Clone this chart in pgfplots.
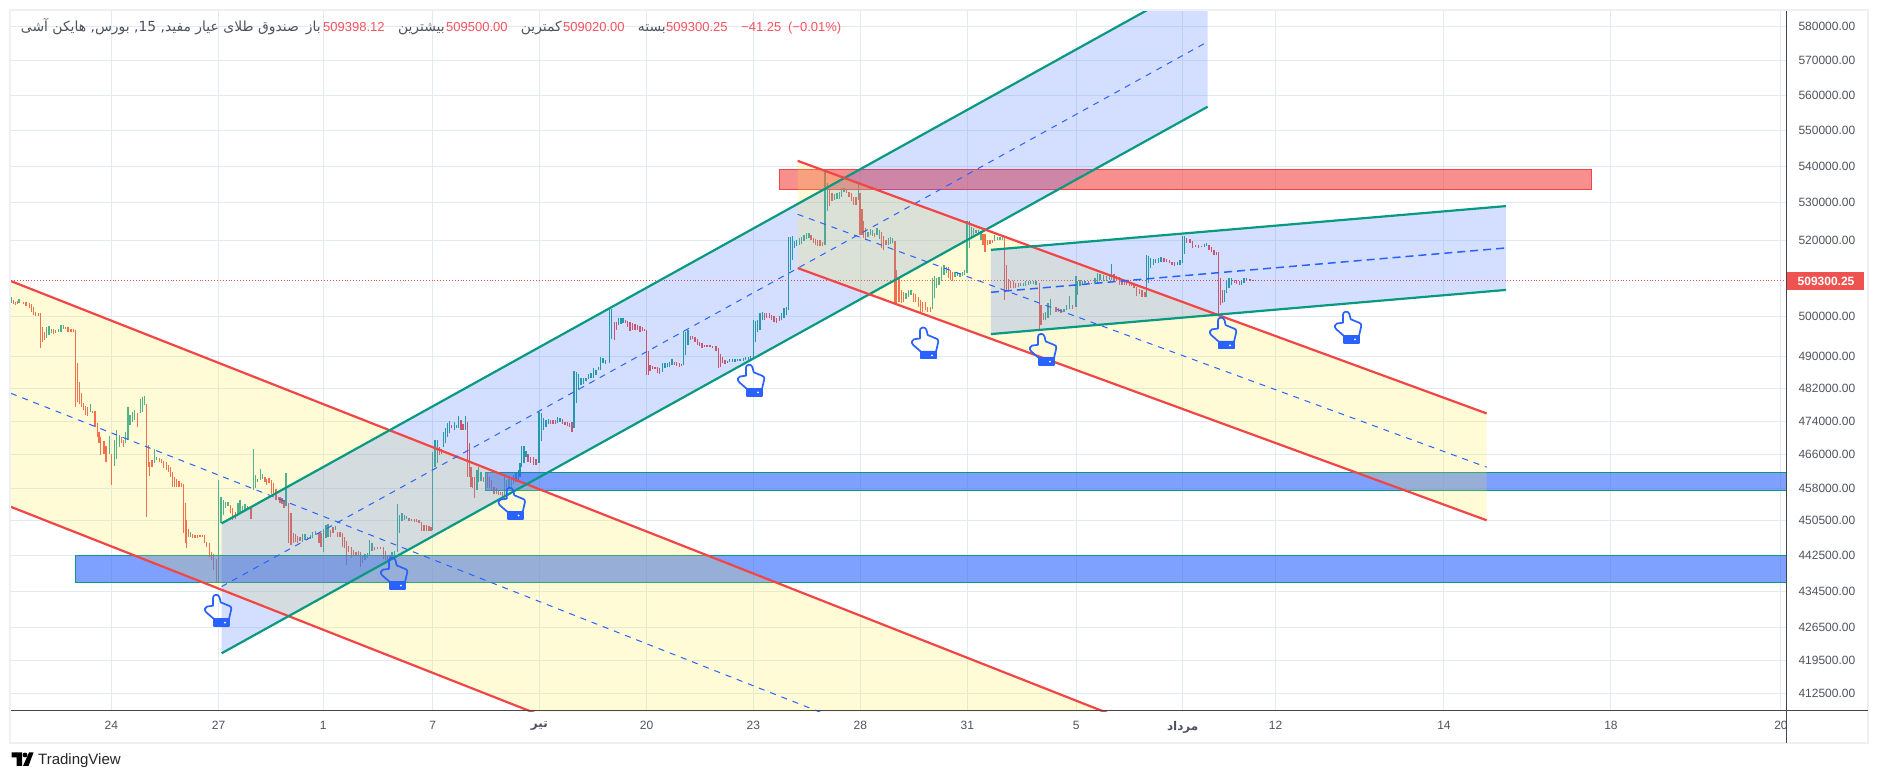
\documentclass[border=0pt]{standalone}
\usepackage{fontspec}
\usepackage{pgfplots}
\usepackage{pgfplotstable}
\pgfplotsset{compat=1.18}
\setmainfont{Liberation Sans}
\newfontfamily\arabicfont[Script=Arabic]{DejaVu Sans}
\TeXXeTstate=1
\definecolor{cr}{HTML}{EF5350}
\definecolor{cg}{HTML}{26A69A}
\definecolor{lr}{HTML}{F24545}
\definecolor{lt}{HTML}{089981}
\definecolor{hb}{HTML}{2962FF}
\definecolor{yl}{HTML}{FFEB3B}
\definecolor{gridc}{HTML}{E1ECF2}
\definecolor{framec}{HTML}{EEF0F6}
\definecolor{axc}{HTML}{434651}
\definecolor{txt}{HTML}{50535E}
\definecolor{redt}{HTML}{F7525F}
\pgfdeclareplotmark{hand}{%
  \pgfsetroundjoin\pgfsetroundcap
  \pgfpathmoveto{\pgfqpoint{-2.3pt}{15.3pt}}
  \pgfpathcurveto{\pgfqpoint{-4.5pt}{15pt}}{\pgfqpoint{-5pt}{13.5pt}}{\pgfqpoint{-5pt}{12pt}}
  \pgfpathlineto{\pgfqpoint{-5pt}{4.3pt}}
  \pgfpathlineto{\pgfqpoint{-11pt}{3.5pt}}
  \pgfpathcurveto{\pgfqpoint{-13.5pt}{3pt}}{\pgfqpoint{-14pt}{0pt}}{\pgfqpoint{-11.7pt}{-2.3pt}}
  \pgfpathlineto{\pgfqpoint{-4pt}{-9pt}}
  \pgfpathlineto{\pgfqpoint{11pt}{-9pt}}
  \pgfpathlineto{\pgfqpoint{13.3pt}{1pt}}
  \pgfpathcurveto{\pgfqpoint{13.5pt}{3pt}}{\pgfqpoint{12.5pt}{4pt}}{\pgfqpoint{11pt}{4.3pt}}
  \pgfpathlineto{\pgfqpoint{2.7pt}{7.7pt}}
  \pgfpathlineto{\pgfqpoint{1.5pt}{12.7pt}}
  \pgfpathcurveto{\pgfqpoint{1pt}{14.5pt}}{\pgfqpoint{-0.5pt}{15.5pt}}{\pgfqpoint{-2.3pt}{15.3pt}}
  \pgfusepathqstroke
  \pgfsetfillcolor{hb}
  \pgfpathmoveto{\pgfqpoint{-4pt}{-9pt}}
  \pgfpathlineto{\pgfqpoint{11pt}{-9pt}}
  \pgfpathlineto{\pgfqpoint{11pt}{-15.7pt}}
  \pgfpathlineto{\pgfqpoint{-4pt}{-15.7pt}}
  \pgfpathclose
  \pgfusepathqfillstroke
  \pgfsetfillcolor{white}
  \pgfpathcircle{\pgfqpoint{7pt}{-12.5pt}}{1pt}
  \pgfusepathqfill
}
\pgfplotstableread{
x l h
40 503300 504200
46 503000 503900
52 503300 504000
70 503300 503800
78 502800 503700
88 502200 503500
95 501300 503300
100 500400 502600
107 500200 501300
115 500200 501000
121 492000 500900
127 493700 497500
133 494100 496200
161 495600 496800
167 495800 496600
197 497000 497500
204 496000 497300
213 496000 497000
220 496000 496800
226 477500 496600
232 478700 488300
238 478300 483700
245 477500 481000
251 476700 478500
257 475500 477700
263 475300 477500
277 475900 476500
285 472700 476500
292 470300 473500
297 468700 471300
302 465800 470300
312 466200 469300
318 464300 468000
334 458800 466200
364 468700 470200
371 467800 469500
412 472700 475900
439 451400 478300
445 463100 468200
449 460900 464300
456 463100 464700
478 464300 465200
484 463900 465000
491 462700 464500
499 462300 464300
506 461900 463500
511 460700 463100
517 458400 461900
524 458400 460700
530 458400 460100
537 458400 459700
545 458400 459300
551 447600 459000
556 445300 454500
560 444200 450700
566 446800 448700
578 446600 447400
585 446600 447200
592 446600 447200
600 446800 447300
607 446800 447300
613 445300 447200
620 444600 445700
628 442300 445300
634 441500 443400
640 439300 443000
649 436400 441700
692 452200 454100
698 450700 453400
706 450800 452600
751 451000 453500
755 451000 453500
795 459600 460700
800 458800 460300
807 459200 460500
815 456800 460000
821 456500 459200
828 455300 457800
835 455300 456100
840 454500 456100
846 454400 455700
852 453500 455300
866 445300 454500
873 445000 452200
880 445300 447600
887 445700 447400
893 445300 447000
900 445900 446800
957 445300 447600
963 444600 447600
992 446800 448400
999 447600 449100
1012 446800 448000
1020 446800 448000
1027 444600 447600
1033 444200 446700
1039 440400 445900
1046 443400 444700
1054 441900 444600
1061 442600 443800
1068 442600 443400
1075 442600 443700
1081 440000 443400
1124 443800 444600
1133 444000 444400
1142 444000 444600
1150 441700 444600
1157 441500 443700
1163 441400 442600
1170 441900 442600
1227 450500 451200
1235 450500 451000
1243 450300 450800
1250 450300 450800
1257 450000 450700
1265 448200 450200
1272 448200 449500
1280 448200 449500
1287 448200 449300
1293 448200 449000
1318 465800 467800
1324 466200 467400
1355 472300 473100
1383 471900 474300
1389 471900 473400
1402 460700 473800
1408 460700 468700
1413 458400 463100
1418 458000 460700
1424 455800 460700
1450 459600 460700
1456 460000 461500
1463 458000 461700
1469 458000 460700
1475 457600 460000
1482 456800 458400
1489 456800 458000
1495 456500 457600
1501 456500 457200
1507 456100 457200
1584 464300 466200
1592 464000 465400
1600 463600 465400
1608 463500 465000
1652 473400 474300
1659 473400 474300
1666 473400 474200
1687 473400 474500
1695 473100 473900
1702 472900 473900
1709 472700 473500
1716 471500 473700
1843 494100 498700
1850 496600 498700
1876 498300 499300
1883 497500 499000
1890 496500 498700
1897 496600 498300
1905 496600 498100
1912 496600 497900
1920 496200 497700
1927 496500 497500
1933 496500 497000
1939 485400 496600
1945 485400 491400
1950 486400 487900
1957 486800 487600
1965 486800 487400
1972 485800 487300
1979 485600 487000
2023 487900 488700
2030 487600 488500
2038 487400 488300
2045 487600 488100
2071 494100 495200
2078 494300 495200
2085 493700 494800
2092 492900 494300
2099 492600 493700
2106 492000 493300
2113 492300 492900
2121 492400 492900
2130 492300 492800
2138 492000 492600
2148 491400 492600
2155 487200 492000
2162 487400 490600
2168 488300 489800
2175 488100 489100
2294 499200 500900
2300 499800 500900
2308 499800 501000
2315 499200 500400
2322 498700 500200
2330 498500 499800
2338 499000 500200
2433 519900 521300
2440 519200 520500
2447 518700 520300
2453 518300 519900
2460 518300 519900
2467 518300 519400
2489 529000 533500
2496 530400 532600
2540 532600 533500
2547 531700 533000
2554 530400 532600
2561 529500 531700
2568 529500 531500
2580 521300 532600
2586 521300 528300
2591 520500 525000
2597 520100 523100
2624 520700 521800
2645 517800 522200
2651 517400 521100
2658 518700 520100
2685 503500 519600
2690 503500 512100
2697 503700 510000
2705 503500 506900
2711 503700 506500
2740 503900 506200
2747 503900 505900
2755 502600 505200
2761 500900 504300
2768 501300 503900
2776 501700 503900
2783 501300 502600
2791 501300 502400
2845 510000 513000
2852 509500 512100
2858 509100 511700
2949 518700 521600
2955 516900 521600
2963 518700 519900
2970 519000 520100
2977 519200 520100
3013 504300 520700
3019 506900 513500
3025 506900 509700
3032 507300 509100
3040 507300 509100
3047 507300 508600
3055 507600 508600
3118 496600 508600
3123 497900 503000
3130 499200 500900
3168 501300 502600
3175 501100 502200
3183 500900 501900
3218 501900 503000
3265 508500 509100
3275 508500 508800
3342 509300 511100
3350 509100 510600
3358 508200 510200
3366 508200 509700
3374 508200 509300
3380 508200 509100
3388 507900 508800
3395 507800 508600
3402 507300 508200
3410 505300 507600
3418 505900 507100
3426 505200 506900
3435 505200 506500
3492 514300 515200
3500 514100 515000
3508 513900 514600
3516 513500 514300
3523 513200 514100
3560 519200 520500
3570 519200 520300
3578 517800 519600
3586 518100 518700
3595 518000 518700
3604 518100 518500
3627 517400 518700
3634 516900 518100
3642 516100 517400
3649 516100 516900
3655 500400 516700
3661 503000 510000
3668 503500 506900
3703 508600 509500
3710 508500 509500
3718 508200 509100
3750 509300 509700
3760 509300 509500
}\redbars
\pgfplotstableread{
x l h
35 503500 505200
57 503500 504500
140 494500 497500
147 495400 497700
155 495800 496800
175 496000 497000
183 496200 497900
190 497000 497800
271 476300 478100
328 466200 470400
343 463400 469500
349 465000 471900
358 467800 470700
377 468700 471500
384 469500 477500
390 473100 475500
397 473900 476300
403 474300 476700
421 475900 479300
427 476300 480000
433 477900 480200
463 464000 467200
470 464700 465400
572 446800 448000
656 436300 460000
663 449900 456100
670 451800 455300
677 453400 454900
684 453800 454900
714 452200 454500
720 452600 455300
727 452600 453800
735 453000 454300
742 453000 453800
760 457600 467200
767 458000 461100
772 459600 460300
781 460000 462500
787 460300 461500
858 453800 461700
908 445700 447400
915 446100 447400
923 446100 446800
932 446200 447200
938 446500 448000
946 447200 448200
970 443400 448700
978 446500 449500
984 446700 449700
1006 448400 449400
1088 440800 442600
1095 441500 443000
1102 442100 443200
1109 442600 446100
1116 443700 445300
1176 442300 443400
1184 442300 443700
1192 443400 454400
1198 447600 451800
1206 450500 452200
1213 450700 451800
1220 451000 451600
1298 448400 466600
1305 463100 469500
1312 463900 469500
1330 467800 471500
1337 468700 472300
1343 470300 473500
1349 471100 474100
1363 471800 473700
1370 472300 473100
1376 472300 475300
1396 471900 475300
1431 457600 462300
1436 459600 463100
1443 459700 461900
1513 456100 461500
1520 457600 460000
1527 458000 460100
1534 458400 460700
1541 459000 461100
1548 459600 461900
1555 460000 462300
1560 460700 463900
1565 463100 468100
1572 463900 468100
1578 465400 466900
1617 464000 476300
1624 469300 475900
1631 471900 474700
1638 472700 474300
1646 473400 474500
1673 473500 475000
1680 473900 474700
1722 472300 486400
1729 478500 486200
1736 481600 485600
1743 482800 484500
1751 483200 484500
1758 483900 484700
1766 484300 485600
1773 484500 485900
1781 484700 487000
1788 485400 486600
1795 486600 487300
1802 486600 489800
1809 488300 489500
1817 488100 489100
1828 488300 502200
1835 494300 501900
1856 497900 499800
1863 498100 499800
1869 498300 499800
1988 486200 488300
1995 487000 488300
2003 487400 488300
2009 487400 488500
2016 487900 489400
2051 487900 496500
2057 490400 496000
2064 492900 496600
2182 488300 488800
2189 488500 489300
2197 488700 489300
2205 488700 489300
2212 488800 489300
2220 488800 489300
2230 488800 489500
2237 489000 489800
2245 489100 489900
2252 489100 490100
2260 489500 499200
2267 493500 499000
2273 496000 499200
2280 496600 501000
2287 499200 501300
2345 499300 500900
2352 499800 502200
2359 500400 502400
2366 501700 520900
2372 512100 520900
2378 514800 521100
2384 517800 519600
2390 518300 520100
2398 518700 520500
2405 519000 520700
2412 519600 521300
2420 520300 521800
2427 520500 521800
2475 518700 539000
2482 527700 535300
2504 530800 532400
2511 531000 532600
2518 531000 533000
2525 531700 533900
2532 532800 533900
2575 530800 535300
2604 520700 522200
2611 521300 522900
2618 521100 522700
2631 521300 523100
2638 520300 522700
2665 518700 520500
2672 519000 520700
2678 519200 520500
2718 504500 506000
2725 505000 506900
2733 505600 506900
2798 501900 510000
2804 504700 510600
2810 507300 510000
2817 508200 510400
2825 509100 513000
2832 510900 513500
2839 511300 513000
2865 510400 511500
2872 510600 511700
2880 510400 511300
2887 510600 511500
2894 510900 512100
2901 511300 525000
2908 517800 525000
2914 520500 523600
2921 521300 523100
2928 521800 522700
2935 521600 522700
2943 520100 522400
2984 519600 521300
2992 519900 520900
3000 519900 520700
3007 520100 520700
3062 507800 508600
3070 507800 508800
3077 507900 509100
3085 508200 509100
3092 508500 509300
3100 508500 509100
3108 508200 509100
3137 499200 501300
3144 499600 503500
3152 500400 504500
3192 501300 502000
3200 501700 503000
3208 501900 505200
3228 502600 510600
3233 505600 509100
3240 507800 509500
3247 508200 509300
3255 508600 509100
3285 508600 510000
3292 508800 511300
3300 509500 511100
3310 509300 510900
3320 509300 510600
3328 509500 510900
3334 509500 513700
3440 505200 516100
3446 508600 515900
3452 512600 515200
3460 513500 515000
3467 513900 515000
3475 513900 515200
3483 514300 515500
3532 513500 514300
3540 513500 514600
3547 513900 521100
3553 516300 521100
3613 518100 518900
3620 518300 519200
3673 503900 506900
3680 506000 509100
3687 507300 510000
3695 508200 510000
3725 508200 509300
3732 508600 510000
3740 509100 510000
}\greenbars
\begin{document}
\begin{tikzpicture}[x=1pt,y=1pt]
\path[use as bounding box,fill=white] (0,0) rectangle (1879,781);
\begin{axis}[
  at={(11pt,70pt)},anchor=south west,
  width=1775pt,height=700pt,scale only axis,
  xmin=33,xmax=5358,
  ymode=log,ymin=0.408743,ymax=0.584614,
  axis line style={draw=none},
  major tick length=0pt,minor tick length=0pt,
  xtick pos=bottom,ytick pos=right,
  xtick={334,656,970,1298,1618,1940,2260,2581,2902,3229,3548,3827,4332,4833,5343},
  xticklabels={24,27,1,7,{\bfseries\arabicfont\beginR تیر\endR},20,23,28,31,5,{\bfseries\arabicfont\beginR مرداد\endR},12,14,18,20},
  ytick={0.58,0.57,0.56,0.55,0.54,0.53,0.52,0.5,0.49,0.482,0.474,0.466,0.458,0.4505,0.4425,0.4345,0.4265,0.4195,0.4125},
  yticklabels={580000.00,570000.00,560000.00,550000.00,540000.00,530000.00,520000.00,500000.00,490000.00,482000.00,474000.00,466000.00,458000.00,450500.00,442500.00,434500.00,426500.00,419500.00,412500.00},
  yminorticks=false,
  grid=major,
  major grid style={gridc,line width=1pt},
  xticklabel style={font=\fontsize{12}{14}\selectfont,text=txt,yshift=-7pt},
  yticklabel style={font=\fontsize{12}{14}\selectfont,text=txt,xshift=9pt},
  clip=true,
]
% candles (prices in the tables; the axis runs in millions)
\addplot[draw=none,mark=none,forget plot,error bars/.cd,y dir=plus,y explicit,error mark=none,error bar style={draw=cr,line width=1.3pt}] table[x=x,y expr=\thisrow{l}/1000000,y error plus expr=(\thisrow{h}-\thisrow{l})/1000000] {\redbars};
\addplot[draw=none,mark=none,forget plot,error bars/.cd,y dir=plus,y explicit,error mark=none,error bar style={draw=cg,line width=1.3pt}] table[x=x,y expr=\thisrow{l}/1000000,y error plus expr=(\thisrow{h}-\thisrow{l})/1000000] {\greenbars};
% last price
\addplot[lr,line width=0.9pt,dotted,forget plot] coordinates {(33,0.5093) (5358,0.5093)};
% zones
\addplot[draw=lr,line width=1pt,fill=lr,fill opacity=.6,forget plot] coordinates {(2338,0.5392) (4776,0.5392) (4776,0.5337) (2338,0.5337)} -- cycle;
\addplot[draw=lt,line width=1pt,fill=hb,fill opacity=.6,forget plot] coordinates {(1456,0.4618) (5370,0.4618) (5370,0.4576) (1456,0.4576)} -- cycle;
\addplot[draw=lt,line width=1pt,fill=hb,fill opacity=.6,forget plot] coordinates {(226,0.4426) (5370,0.4426) (5370,0.4365) (226,0.4365)} -- cycle;
% falling channel 1
\addplot[draw=none,fill=yl,fill opacity=.2,forget plot] coordinates {(33,0.5092) (3360,0.4073) (1620,0.4079) (33,0.4537)} -- cycle;
% rising channel
\addplot[draw=none,fill=hb,fill opacity=.2,forget plot] coordinates {(665,0.4499) (3623,0.595) (3623,0.5567) (665,0.421)} -- cycle;
% falling channel 2
\addplot[draw=none,fill=yl,fill opacity=.2,forget plot] coordinates {(2393,0.5415) (4460,0.4759) (4460,0.4506) (2393,0.5126)} -- cycle;
% flat channel
\addplot[draw=none,fill=hb,fill opacity=.2,forget plot] coordinates {(2973,0.5174) (4518,0.5291) (4518,0.5069) (2973,0.4956)} -- cycle;
% channel lines
\addplot[lr,line width=2.2pt,forget plot] coordinates {(33,0.5092) (3360,0.4073)};
\addplot[lr,line width=2.2pt,forget plot] coordinates {(33,0.4537) (1620,0.4079)};
\addplot[hb,line width=1pt,dash pattern=on 6pt off 6pt,forget plot] coordinates {(33,0.4808) (2490,0.4077)};
\addplot[lt,line width=2.2pt,forget plot] coordinates {(665,0.4499) (3623,0.595)};
\addplot[lt,line width=2.2pt,forget plot] coordinates {(665,0.421) (3623,0.5567)};
\addplot[hb,line width=1pt,dash pattern=on 6pt off 6pt,forget plot] coordinates {(665,0.4356) (3623,0.5755)};
\addplot[lr,line width=2.2pt,forget plot] coordinates {(2393,0.5415) (4460,0.4759)};
\addplot[lr,line width=2.2pt,forget plot] coordinates {(2393,0.5126) (4460,0.4506)};
\addplot[hb,line width=1pt,dash pattern=on 6pt off 6pt,forget plot] coordinates {(2393,0.5269) (4460,0.463)};
\addplot[lt,line width=2.2pt,forget plot] coordinates {(2973,0.5174) (4518,0.5291)};
\addplot[lt,line width=2.2pt,forget plot] coordinates {(2973,0.4956) (4518,0.5069)};
\addplot[hb,line width=1.5pt,dash pattern=on 8pt off 5pt,forget plot] coordinates {(2973,0.5063) (4518,0.5179)};
% hands
\addplot[only marks,mark=hand,mark options={draw=hb,line width=1.7pt},forget plot] coordinates {(654,0.4304) (1182,0.4386) (1535,0.4546) (2253,0.4841) (2775,0.4934) (3129,0.4918) (3669,0.4959) (4044,0.4974)};
\end{axis}
% frame and axes
\draw[framec,line width=2pt] (10,771) rectangle (1868,38);
\draw[axc,line width=1pt] (11,70) -- (1868,70);
\draw[axc,line width=1pt] (1786,770) -- (1786,38);
% last price label
\fill[cr] (1787,509) rectangle (1864,491);
\node[anchor=center,text=white,font=\fontsize{12}{14}\selectfont\bfseries,inner sep=0pt] at (1826,500) {509300.25};
% header
\begin{scope}[every node/.style={inner sep=0pt,anchor=base,font=\fontsize{13}{15}\selectfont}]
\node[anchor=base east,text=txt,font=\arabicfont\fontsize{13.9}{15}\selectfont] at (299,749.5) {\beginR صندوق طلای عیار مفید, \beginL 15\endL, بورس, هایکن آشی\endR};
\node[anchor=base east,text=txt,font=\arabicfont\fontsize{13.9}{15}\selectfont] at (321,749.5) {\beginR باز\endR};
\node[anchor=base west,text=redt] at (323,749.5) {509398.12};
\node[anchor=base east,text=txt,font=\arabicfont\fontsize{13.9}{15}\selectfont] at (445,749.5) {\beginR بیشترین\endR};
\node[anchor=base west,text=redt] at (446,749.5) {509500.00};
\node[anchor=base east,text=txt,font=\arabicfont\fontsize{13.9}{15}\selectfont] at (562,749.5) {\beginR کمترین\endR};
\node[anchor=base west,text=redt] at (563,749.5) {509020.00};
\node[anchor=base east,text=txt,font=\arabicfont\fontsize{13.9}{15}\selectfont] at (666,749.5) {\beginR بسته\endR};
\node[anchor=base west,text=redt] at (666,749.5) {509300.25};
\node[anchor=base west,text=redt] at (741,749.5) {−41.25};
\node[anchor=base west,text=redt] at (788,749.5) {(−0.01\%)};
\end{scope}
% logo
\fill[black] (11.5,28.5) -- (22,28.5) -- (22,15) -- (16.5,15) -- (16.5,23.5) -- (11.5,23.5) -- cycle;
\fill[black] (25,26) circle (2.4);
\fill[black] (23,15) -- (29,28.5) -- (33.5,28.5) -- (28.5,15) -- cycle;
\node[anchor=base west,inner sep=0pt,text=black!85,font=\fontsize{15}{17}\selectfont] at (38,16) {TradingView};
\end{tikzpicture}
\end{document}
